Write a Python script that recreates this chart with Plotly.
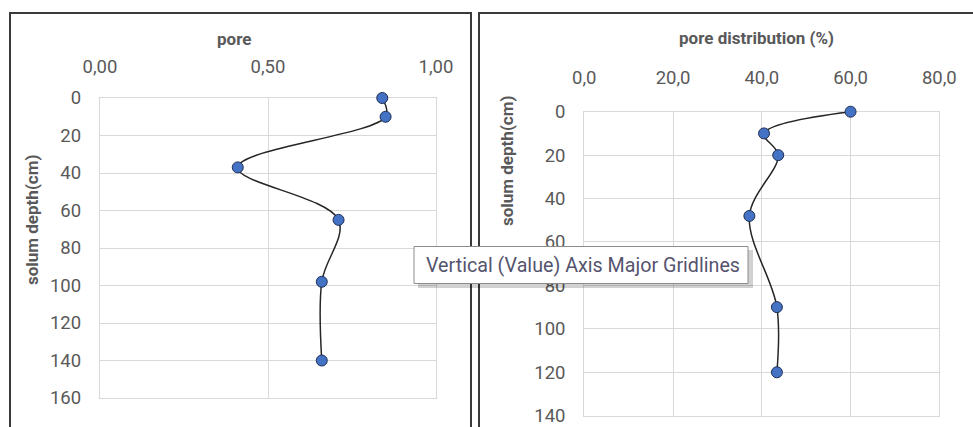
import plotly.graph_objects as go

# Soil profile: total pore fraction vs depth
pore_depth = [0, 10, 37, 65, 98, 140]
pore_value = [0.84, 0.85, 0.41, 0.71, 0.66, 0.66]

# Soil profile: pore distribution (%) vs depth
dist_depth = [0, 10, 20, 48, 90, 120]
dist_value = [60.0, 40.5, 43.7, 37.2, 43.4, 43.4]

W, H = 973, 427
FONT = "Roboto, Liberation Sans, sans-serif"
TICK_COLOR = "#595959"
GRID = "#d9d9d9"


def fx(px):
    return px / W


def fy(py):
    return 1 - py / H


fig = go.Figure()

marker = dict(size=11, color="#4472C4", line=dict(color="#1f2f55", width=1))
line = dict(color="#262626", width=1.5, shape="spline", smoothing=1.0)

fig.add_trace(go.Scatter(x=pore_value, y=pore_depth, mode="lines+markers",
                         marker=marker, line=line, xaxis="x", yaxis="y",
                         cliponaxis=False, showlegend=False))
fig.add_trace(go.Scatter(x=dist_value, y=dist_depth, mode="lines+markers",
                         marker=marker, line=line, xaxis="x2", yaxis="y2",
                         cliponaxis=False, showlegend=False))

axis_common = dict(
    showgrid=True, gridcolor=GRID, gridwidth=1.3,
    showline=True, linecolor=GRID, linewidth=1.3, mirror=True,
    zeroline=False, ticks="", automargin=False,
    ticklabeloverflow="allow", layer="below traces",
    tickfont=dict(family=FONT, size=18.5, color=TICK_COLOR),
    fixedrange=True,
)

fig.update_layout(
    width=W, height=H,
    margin=dict(l=0, r=0, t=0, b=0),
    paper_bgcolor="white", plot_bgcolor="white",
    separators=",.",
    xaxis=dict(axis_common, domain=[fx(100), fx(436)], range=[0, 1],
               dtick=0.5, tick0=0, tickformat=".2f", side="top",
               anchor="y", ticklabelstandoff=16),
    yaxis=dict(axis_common, domain=[fy(398), fy(98)], range=[160, 0],
               dtick=20, tick0=0, anchor="x", ticklabelstandoff=14),
    xaxis2=dict(axis_common, domain=[fx(584.3), fx(939.3)], range=[0, 80],
                dtick=20, tick0=0, tickformat=".1f", side="top",
                anchor="y2", ticklabelstandoff=19),
    yaxis2=dict(axis_common, domain=[fy(415.7), fy(111.7)], range=[140, 0],
                dtick=20, tick0=0, anchor="x2", ticklabelstandoff=14),
)

title_font = dict(family=FONT, size=17, color=TICK_COLOR, weight="bold")
annotations = [
    dict(text="<b>pore</b>", x=fx(234), y=fy(39), xref="paper", yref="paper",
         showarrow=False, font=title_font, xanchor="center", yanchor="middle"),
    dict(text="<b>pore distribution (%)</b>", x=fx(756), y=fy(38),
         xref="paper", yref="paper", showarrow=False, font=title_font,
         xanchor="center", yanchor="middle"),
    dict(text="<b>solum depth(cm)</b>", x=fx(32), y=fy(220), xref="paper",
         yref="paper", showarrow=False, font=title_font, textangle=-90,
         xanchor="center", yanchor="middle"),
    dict(text="<b>solum depth(cm)</b>", x=fx(507), y=fy(161), xref="paper",
         yref="paper", showarrow=False, font=title_font, textangle=-90,
         xanchor="center", yanchor="middle"),
    dict(text="Vertical (Value) Axis Major Gridlines", x=fx(424), y=fy(265),
         xref="paper", yref="paper", showarrow=False, xanchor="left",
         yanchor="middle",
         font=dict(family=FONT, size=19.7, color="#55546e")),
]

frame = dict(color="#3a3a3a", width=2)
shapes = [
    # chart frames
    dict(type="rect", xref="paper", yref="paper", x0=fx(10), x1=fx(471),
         y0=fy(450), y1=fy(13), line=frame, fillcolor="rgba(0,0,0,0)",
         layer="above"),
    dict(type="rect", xref="paper", yref="paper", x0=fx(479), x1=fx(990),
         y0=fy(450), y1=fy(13), line=frame, fillcolor="rgba(0,0,0,0)",
         layer="above"),
    # tooltip shadow
    dict(type="rect", xref="paper", yref="paper", x0=fx(418), x1=fx(753),
         y0=fy(288), y1=fy(250), line=dict(width=0),
         fillcolor="rgba(0,0,0,0.18)", layer="above"),
    # tooltip box
    dict(type="rect", xref="paper", yref="paper", x0=fx(414), x1=fx(748),
         y0=fy(283.5), y1=fy(246.5), line=dict(color="#8c8c8c", width=1),
         fillcolor="white", layer="above"),
]

fig.update_layout(annotations=annotations, shapes=shapes)

fig.write_html("out.html")
